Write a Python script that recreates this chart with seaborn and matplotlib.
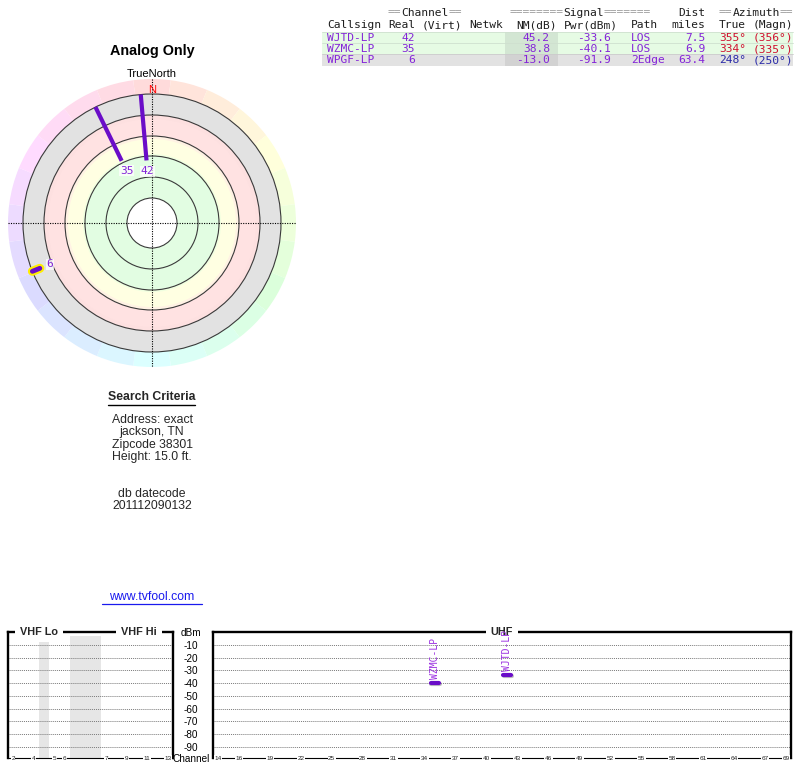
import re
import colorsys
import numpy as np
import pandas as pd
import matplotlib
matplotlib.use('Agg')
import matplotlib.pyplot as plt
import matplotlib.patheffects as pe
from matplotlib.patches import Wedge, Circle, Rectangle
import seaborn as sns

# ---------------- data ----------------
callsigns = ['WJTD-LP', 'WZMC-LP', 'WPGF-LP']
channels = [42, 35, 6]
nm_db = [45.2, 38.8, -13.0]
pwr_dbm = [-33.6, -40.1, -91.9]
paths = ['LOS', 'LOS', '2Edge']
dist_miles = [7.5, 6.9, 63.4]
az_true = [355, 334, 248]
az_magn = [356, 335, 250]

vhf_channels = [2, 3, 4, 5, 6, 7, 8, 9, 10, 11, 12, 13]
vhf_slots = [0, 1, 2, 4, 5, 9, 10, 11, 12, 13, 14, 15]
vhf_gaps = [(3, 4), (6, 9)]
vhf_tick_channels = [2, 4, 5, 6, 7, 9, 11, 13]
uhf_tick_channels = [14, 16, 19, 22, 25, 28, 31, 34, 37, 40, 43, 46, 49, 52,
                     55, 58, 61, 64, 67, 69]
dbm_ticks = [-10, -20, -30, -40, -50, -60, -70, -80, -90]

search_lines = ['Address: exact', 'jackson, TN', 'Zipcode 38301', 'Height: 15.0 ft.']
datecode_lines = ['db datecode', '201112090132']

hdr1 = " " * 9 + "==Channel==" + " " * 7 + "========Signal=======" + " " * 4 + "Dist" + " " * 2 + "==Azimuth=="
hdr2 = "Callsign Real (Virt) Netwk  NM(dB) Pwr(dBm)  Path  miles  True (Magn)"

# ---------------- style ----------------
sns.set_theme(style='white')
plt.rcParams['font.family'] = ['Liberation Sans', 'DejaVu Sans']

PURPLE_TXT = '#8424d8'
PURPLE_MARK = '#6a0dc8'
MONO = 'DejaVu Sans Mono'

fig = plt.figure(figsize=(8, 7.68), dpi=100)
ax = fig.add_axes([0, 0, 1, 1])
ax.set_facecolor('white')

# ---------------- polar chart ----------------
CX, CY = 152, 223
R_RIM = 144
R_EDGE = 129


def bearing_xy(b, r):
    t = np.deg2rad(b)
    return CX + r * np.sin(t), CY - r * np.cos(t)


def nm_to_r(nm):
    return R_EDGE - (nm + 21.0)


# hue rim
for k in range(24):
    b = k * 15
    rgb = colorsys.hsv_to_rgb((b / 360.0) % 1.0, 0.14, 1.0)
    ax.add_patch(Wedge((CX, CY), R_RIM, b - 90 - 7.5, b - 90 + 7.5,
                       width=R_RIM - R_EDGE + 1, fc=rgb, ec='none', zorder=1))
# zones
for r, c in [(R_EDGE, '#e2e2e2'), (108, '#fde0e0'), (104, '#ffe2e2'),
             (87, '#fff2e4'), (84, '#ffffe2'), (69, '#f0ffe0'), (67, '#e2fde2'),
             (25, 'white')]:
    ax.add_patch(Circle((CX, CY), r, fc=c, ec='none', zorder=1.2))
for r in [25, 46, 67, 87, 108, R_EDGE]:
    ax.add_patch(Circle((CX, CY), r, fill=False, ec='#3a3a3a', lw=0.8, zorder=1.5))

ax.plot([CX - R_RIM, CX + R_RIM], [CY, CY], ls=(0, (1, 1.2)), color='black', lw=0.8, zorder=1.6)
ax.plot([CX, CX], [79, CY + R_RIM], ls=(0, (1, 1.2)), color='black', lw=0.8, zorder=1.6)

rows = []
for cs, az, nm, pth in zip(callsigns, az_true, nm_db, paths):
    for r in (R_EDGE, nm_to_r(nm)):
        x, y = bearing_xy(az, r)
        rows.append(dict(call=cs, x=x, y=y, path=pth))
pdf = pd.DataFrame(rows)

sns.lineplot(data=pdf[pdf.path == 'LOS'], x='x', y='y', units='call', estimator=None,
             sort=False, color=PURPLE_MARK, lw=3, legend=False, ax=ax,
             solid_capstyle='butt', zorder=4)
sns.lineplot(data=pdf[pdf.path != 'LOS'], x='x', y='y', units='call', estimator=None,
             sort=False, color=PURPLE_MARK, lw=3.5, legend=False, ax=ax,
             solid_capstyle='round', zorder=4,
             path_effects=[pe.Stroke(linewidth=6.5, foreground='#ffee00'), pe.Normal()])

for ch, az, nm in zip(channels, az_true, nm_db):
    x, y = bearing_xy(az, nm_to_r(nm) - 11)
    ax.text(x, y, str(ch), color=PURPLE_TXT, fontsize=8, family=MONO,
            ha='center', va='center', zorder=5,
            bbox=dict(fc='white', ec='none', alpha=0.75, pad=0.3))

ax.text(CX, 51, 'Analog Only', ha='center', va='center', fontsize=10.4, fontweight='bold', color='black')
ax.text(CX, 74, 'TrueNorth', ha='center', va='center', fontsize=8, color='black')
ax.text(CX, 90, 'N', ha='center', va='center', fontsize=8, color='#ff0000', zorder=5)

# ---------------- left texts ----------------
ax.text(CX, 397, 'Search Criteria', ha='center', va='center', fontsize=8.8, fontweight='bold')
ax.plot([108, 195], [404.5, 404.5], color='black', lw=1)
for i, s in enumerate(search_lines):
    ax.text(CX, 420 + i * 12.4, s, ha='center', va='center', fontsize=8.8)
for i, s in enumerate(datecode_lines):
    ax.text(CX, 494 + i * 12.4, s, ha='center', va='center', fontsize=8.8)
ax.text(CX, 597, 'www.tvfool.com', ha='center', va='center', fontsize=8.8, color='#1a1aee')
ax.plot([102, 202], [604, 604], color='#1a1aee', lw=0.9)

# ---------------- table ----------------
FS = 8.08
CW = FS * 100 / 72 * 0.60205
TX0 = 327
ROW_H = 11.2
ROW_Y0 = 32


def put_mono(s, col0, y, colfn):
    for m in re.finditer(r'=+|[^=\s]+', s):
        ax.text(TX0 + (col0 + m.start()) * CW, y, m.group(), color=colfn(m.group()),
                fontsize=FS, family=MONO, ha='left', va='center', zorder=5)


hdr_col = lambda t: '#9a9a9a' if t.startswith('=') else '#1e1e1e'
put_mono(hdr1, 0, 12.5, hdr_col)
put_mono(hdr2, 0, 25, hdr_col)

for i in range(len(callsigns)):
    y0 = ROW_Y0 + i * ROW_H
    los = paths[i] == 'LOS'
    ax.add_patch(Rectangle((322, y0), 471, ROW_H, fc='#e6fbe4' if los else '#e2e2e2', ec='none', zorder=1))
    ax.add_patch(Rectangle((505, y0), 53, ROW_H, fc='#d3e6d3' if los else '#d2d2d2', ec='none', zorder=1.1))
    ax.plot([322, 793], [y0, y0], color='#cfe0cf' if los else '#cccccc', lw=0.6, zorder=1.2)
    main = (f"{callsigns[i]:<8} {channels[i]:>4}{nm_db[i]:>20.1f}{pwr_dbm[i]:>9.1f}"
            f"   {paths[i]:<5}{dist_miles[i]:>6.1f}")
    azs = f"{az_true[i]}\u00b0 ({az_magn[i]}\u00b0)"
    yc = y0 + ROW_H / 2 + 0.3
    put_mono(main, 0, yc, lambda t: PURPLE_TXT)
    put_mono(azs, 58, yc, (lambda t: '#d01030') if los else (lambda t: '#2a2aa8'))

ax.set_xlim(0, 800)
ax.set_ylim(768, 0)
ax.axis('off')

# ---------------- spectrum panels ----------------
FLOOR = -98.6
TOP_PX, BOT_PX = 632, 758


def spec_axes(left, right):
    a = fig.add_axes([left / 800, (768 - BOT_PX) / 768, (right - left) / 800, (BOT_PX - TOP_PX) / 768])
    a.set_facecolor('none')
    a.set_ylim(FLOOR, 0)
    a.set_axisbelow(False)
    for s in ['left', 'right', 'top']:
        a.spines[s].set_linewidth(1.7)
        a.spines[s].set_color('black')
    a.spines['bottom'].set_linewidth(0.8)
    a.spines['bottom'].set_color('black')
    for yv in dbm_ticks:
        a.axhline(yv, ls=(0, (1, 1)), color='#7a7a7a', lw=0.7, zorder=1.5)
    a.tick_params(axis='x', length=0, pad=0, labelsize=4.6, colors='#222222')
    return a


ax_v = spec_axes(8, 173)
ax_v.set_xlim(0, len(vhf_slots) + 4)
for g0, g1 in vhf_gaps:
    ax_v.axvspan(g0, g1, ymax=0.97, fc='#e6e6e6', ec='none', zorder=1)
slot_of = dict(zip(vhf_channels, vhf_slots))
ax_v.set_xticks([slot_of[c] + 0.5 for c in vhf_tick_channels], [str(c) for c in vhf_tick_channels])
ax_v.set_yticks([])
ax_v.set_ylabel('')
ax_v.set_xlabel('')
ax_v.text(0.188, 1.0, 'VHF Lo', transform=ax_v.transAxes, ha='center', va='center', fontsize=7.8,
          fontweight='bold', bbox=dict(boxstyle='square,pad=0.45', fc='white', ec='none'), zorder=6)
ax_v.text(0.794, 1.0, 'VHF Hi', transform=ax_v.transAxes, ha='center', va='center', fontsize=7.8,
          fontweight='bold', bbox=dict(boxstyle='square,pad=0.45', fc='white', ec='none'), zorder=6)

ax_u = spec_axes(213, 791)
ax_u.set_xlim(13.5, 69.5)
ax_u.set_xticks(uhf_tick_channels, [str(c) for c in uhf_tick_channels])
ax_u.set_yticks([0] + dbm_ticks + [FLOOR], ['dBm'] + [str(v) for v in dbm_ticks] + ['Channel'])
ax_u.tick_params(axis='y', length=0, pad=15.8, labelsize=7.2, colors='black')
plt.setp(ax_u.get_yticklabels(), ha='center')
ax_u.text(0.5, 1.0, 'UHF', transform=ax_u.transAxes, ha='center', va='center', fontsize=7.8,
          fontweight='bold', bbox=dict(boxstyle='square,pad=0.45', fc='white', ec='none'), zorder=6)

for a in (ax_v, ax_u):
    for lbl in a.get_xticklabels():
        lbl.set_va('center')
        lbl.set_bbox(dict(fc='white', ec='none', pad=0.4))

# station marks on UHF panel
srows = []
for cs, ch, pw in zip(callsigns, channels, pwr_dbm):
    if ch >= 14 and pw > -90:
        for dx in (-0.42, 0.42):
            srows.append(dict(call=cs, x=ch + dx, y=pw))
sdf = pd.DataFrame(srows)
sns.lineplot(data=sdf, x='x', y='y', units='call', estimator=None, sort=False,
             color=PURPLE_MARK, lw=3, legend=False, ax=ax_u, zorder=4,
             path_effects=[pe.SimpleLineShadow(offset=(0.6, -0.8), shadow_color='#999999', alpha=0.6), pe.Normal()])
for cs, ch, pw in zip(callsigns, channels, pwr_dbm):
    if ch >= 14 and pw > -90:
        ax_u.text(ch, pw + 3.2, cs, rotation=90, ha='center', va='bottom', fontsize=7,
                  family=MONO, color='#9b30e0', zorder=7)
ax_u.set_xlim(13.5, 69.5)
ax_u.set_ylim(FLOOR, 0)
ax_u.set_xlabel('')
ax_u.set_ylabel('')

fig.savefig('out.png', dpi=100)
